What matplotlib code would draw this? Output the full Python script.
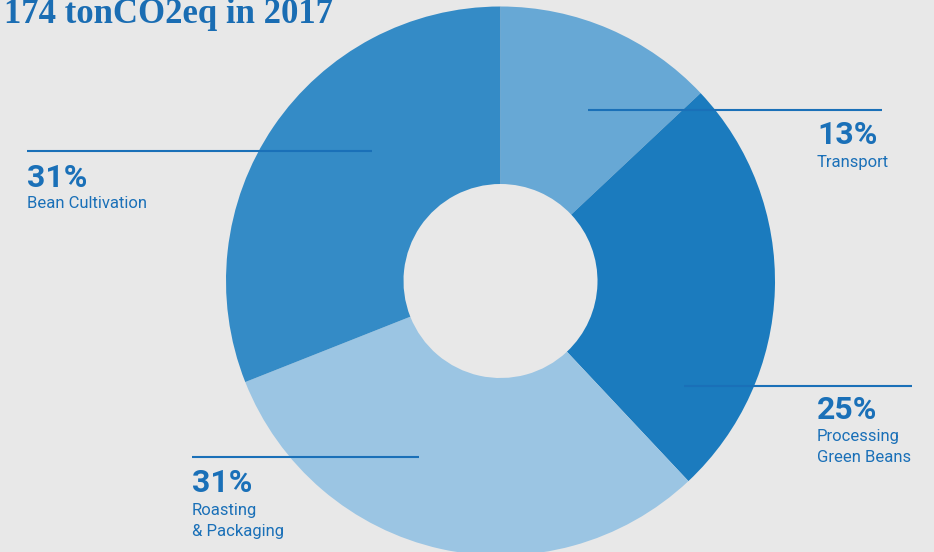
import matplotlib
matplotlib.use("Agg")
import matplotlib.pyplot as plt

# Emissions breakdown, clockwise from 12 o'clock
categories = ["Transport", "Processing\nGreen Beans", "Roasting\n& Packaging", "Bean Cultivation"]
shares = [13, 25, 31, 31]
colors = ["#67a8d5", "#1b7bbe", "#9bc5e3", "#348bc6"]
title = "174 tonCO2eq in 2017"

W, H = 934, 552
BG = "#e8e8e8"
INK = "#1a70b8"

fig = plt.figure(figsize=(W / 100, H / 100), dpi=100, facecolor=BG)
ax = fig.add_axes([0, 0, 1, 1])
ax.set_facecolor(BG)


def py(y):
    return H - y


R_OUT, R_IN = 274.5, 97
cx, cy = 500.5, 281
ax.pie(shares, colors=colors, startangle=90, counterclock=False,
       radius=R_OUT, center=(cx, py(cy)), frame=True,
       wedgeprops=dict(width=R_OUT - R_IN, linewidth=0))
ax.set_xlim(0, W)
ax.set_ylim(0, H)
ax.set_aspect("equal")
ax.axis("off")

# leader line span, line y, text x, baselines for percentage and name lines
layout = {
    "Transport": ((588, 882), 110, 817, 144, [167]),
    "Processing\nGreen Beans": ((684, 912), 386, 817, 419, [441, 462]),
    "Roasting\n& Packaging": ((192, 419), 457, 192, 492, [515, 536]),
    "Bean Cultivation": ((27, 372), 151, 27, 187, [208]),
}

sans = ["Roboto", "DejaVu Sans"]
for cat, val in zip(categories, shares):
    (x0, x1), ly, tx, pb, nb = layout[cat]
    ax.plot([x0, x1], [py(ly), py(ly)], color=INK, lw=1.5, solid_capstyle="butt", zorder=5)
    ax.text(tx, py(pb), f"{val}%", color=INK, fontsize=23, fontweight="bold",
            family=sans, ha="left", va="baseline", zorder=6)
    for line, b in zip(cat.split("\n"), nb):
        ax.text(tx, py(b), line, color=INK, fontsize=12, family=sans,
                ha="left", va="baseline", zorder=6)

ax.text(4, py(23), title, color="#1a6db3", fontsize=25, fontweight="bold",
        family=["Liberation Serif", "DejaVu Serif"], ha="left", va="baseline")

fig.savefig("out.png", dpi=100, facecolor=BG)
